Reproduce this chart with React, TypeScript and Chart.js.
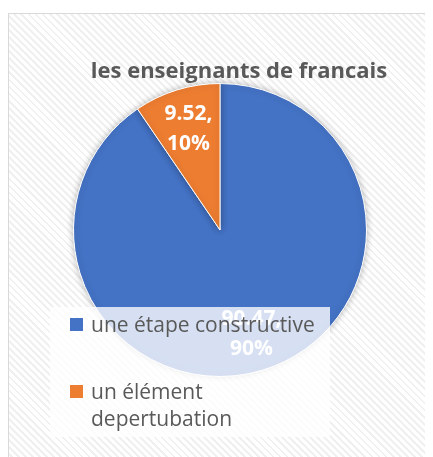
import React, { useEffect, useRef } from 'react';
import { Chart, registerables } from 'chart.js';

Chart.register(...registerables);

const TITLE = 'les enseignants de francais';
const categories: (string | string[])[] = ['une étape constructive', ['un élément', 'depertubation']];
const values = [90.47, 9.52];
const percentLabels = ['90%', '10%'];
const sliceColors = ['#4472C4', '#ED7D31'];

const FONT = '"Open Sans", "Noto Sans", sans-serif';
const TEXT_GRAY = '#595959';

export default function App() {
  const ref = useRef<HTMLCanvasElement>(null);

  useEffect(() => {
    const canvas = ref.current!;

    const titlePlugin = {
      id: 'customTitle',
      afterDraw(chart: any) {
        const ctx = chart.ctx;
        ctx.save();
        ctx.font = `bold 22px ${FONT}`;
        ctx.fillStyle = TEXT_GRAY;
        ctx.textAlign = 'center';
        ctx.textBaseline = 'alphabetic';
        ctx.fillText(TITLE, chart.width / 2, 64);
        ctx.restore();
      },
    };

    const shadowPlugin = {
      id: 'pieShadow',
      beforeDatasetsDraw(chart: any) {
        const ctx = chart.ctx;
        ctx.save();
        ctx.shadowColor = 'rgba(0,0,0,0.28)';
        ctx.shadowBlur = 7;
      },
      afterDatasetsDraw(chart: any) {
        chart.ctx.restore();
      },
    };

    const dataLabelPlugin = {
      id: 'sliceLabels',
      afterDatasetsDraw(chart: any) {
        const ctx = chart.ctx;
        const meta = chart.getDatasetMeta(0);
        ctx.save();
        ctx.font = `bold 21px ${FONT}`;
        ctx.fillStyle = '#ffffff';
        ctx.textAlign = 'center';
        ctx.textBaseline = 'alphabetic';
        meta.data.forEach((arc: any, i: number) => {
          const p = arc.getProps(['x', 'y', 'startAngle', 'endAngle', 'outerRadius'], true);
          const mid = (p.startAngle + p.endAngle) / 2;
          const r = p.outerRadius * 0.73;
          const cx = p.x + Math.cos(mid) * r;
          const cy = p.y + Math.sin(mid) * r;
          ctx.fillText(`${values[i]},`, cx, cy - 7.5);
          ctx.fillText(percentLabels[i], cx, cy + 22.5);
        });
        ctx.restore();
      },
    };

    const legendPlugin = {
      id: 'overlayLegend',
      afterDraw(chart: any) {
        const ctx = chart.ctx;
        const bx = 41, by = 293, bw = 280, bh = 130;
        ctx.save();
        ctx.fillStyle = 'rgba(255,255,255,0.78)';
        ctx.fillRect(bx, by, bw, bh);
        ctx.font = `21px ${FONT}`;
        ctx.textAlign = 'left';
        ctx.textBaseline = 'alphabetic';
        let y = by + 11;
        categories.forEach((cat, i) => {
          const lines = Array.isArray(cat) ? cat : [cat];
          ctx.fillStyle = sliceColors[i];
          ctx.fillRect(bx + 20, y, 13, 13);
          ctx.fillStyle = TEXT_GRAY;
          lines.forEach((ln, j) => {
            ctx.fillText(ln, bx + 41, y + 14 + j * 27);
          });
          y += lines.length * 27 + 40;
        });
        ctx.restore();
      },
    };

    const chart = new Chart(canvas, {
      type: 'pie',
      data: {
        labels: categories as any,
        datasets: [
          {
            data: values,
            backgroundColor: sliceColors,
            borderColor: '#ffffff',
            borderWidth: 1,
          },
        ],
      },
      options: {
        responsive: false,
        animation: false,
        layout: { padding: { left: 64, right: 102, top: 69, bottom: 97 } },
        plugins: {
          legend: { display: false },
          title: { display: false },
          tooltip: { enabled: false },
        },
      },
      plugins: [shadowPlugin, dataLabelPlugin, titlePlugin, legendPlugin],
    });

    return () => chart.destroy();
  }, []);

  return (
    <div style={{ position: 'relative', width: 425, height: 449, overflow: 'hidden' }}>
      <div
        style={{
          position: 'absolute',
          left: 0,
          top: 5,
          width: 460,
          height: 460,
          border: '1px solid #d9d9d9',
          background:
            'repeating-linear-gradient(45deg, #ffffff 0px, #ffffff 3px, #f0f0f0 3px, #f0f0f0 5px)',
        }}
      >
        <canvas ref={ref} width={460} height={460} style={{ display: 'block', width: 460, height: 460 }} />
      </div>
    </div>
  );
}
